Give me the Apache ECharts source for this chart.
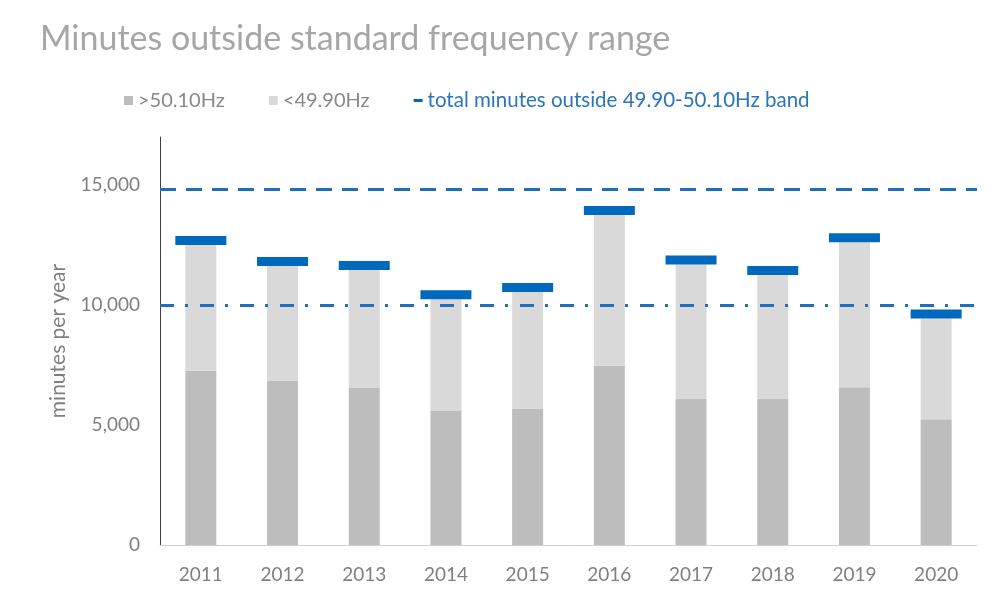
<!DOCTYPE html>
<html>
<head>
<meta charset="utf-8">
<script src="https://cdn.jsdelivr.net/npm/echarts@6/dist/echarts.min.js"></script>
<style>
html, body { margin: 0; padding: 0; background: #fff; }
#chart { width: 997px; height: 607px; }
</style>
</head>
<body>
<div id="chart"></div>
<script>
// values
const years = ['2011', '2012', '2013', '2014', '2015', '2016', '2017', '2018', '2019', '2020'];
const aboveBand = [7260, 6850, 6560, 5580, 5680, 7470, 6100, 6100, 6570, 5240];
const belowBand = [5240, 4780, 4900, 4660, 4860, 6280, 5590, 5150, 6040, 4200];
const upperRef = 14820;
const lowerRef = 10000;

const totals = aboveBand.map((v, i) => v + belowBand[i]);

const blue = '#0068bd';
const lineBlue = '#1f6fc0';
const fontFamily = 'Lato, "Open Sans", sans-serif';

const chart = echarts.init(document.getElementById('chart'));

const option = {
    animation: false,
    title: {
        text: 'Minutes outside standard frequency range',
        left: 35,
        top: 17,
        textStyle: {
            fontFamily: fontFamily,
            fontSize: 34,
            fontWeight: 'normal',
            color: '#a6a6a6'
        }
    },
    legend: {
        left: 119,
        top: 85,
        itemGap: 44,
        itemWidth: 9,
        itemHeight: 9,
        textStyle: {
            fontFamily: fontFamily,
            fontSize: 20,
            color: '#888888'
        },
        data: [
            { name: '>50.10Hz', icon: 'rect' },
            { name: '<49.90Hz', icon: 'rect' },
            {
                name: 'total minutes outside 49.90-50.10Hz band',
                icon: 'path://M0,0L9,0L9,3L0,3Z',
                itemStyle: { color: blue, opacity: 1 },
                textStyle: { color: '#2a75bb', fontSize: 20.5 }
            }
        ]
    },
    grid: {
        left: 160,
        right: 20,
        top: 137,
        bottom: 62
    },
    xAxis: {
        type: 'category',
        data: years,
        axisLine: { lineStyle: { color: '#d0d0d0', width: 1 } },
        axisTick: { show: false },
        axisLabel: {
            fontFamily: fontFamily,
            fontSize: 19,
            color: '#808080',
            margin: 20
        }
    },
    yAxis: {
        type: 'value',
        min: 0,
        max: 17000,
        interval: 5000,
        name: 'minutes per year',
        nameLocation: 'center',
        nameGap: 91,
        nameTextStyle: {
            fontFamily: fontFamily,
            fontSize: 21,
            color: '#7f7f7f'
        },
        axisLine: { show: true, lineStyle: { color: '#404040', width: 1 } },
        axisTick: { show: false },
        splitLine: { show: false },
        axisLabel: {
            showMaxLabel: false,
            fontFamily: fontFamily,
            fontSize: 19,
            color: '#808080',
            margin: 20,
            formatter: v => v.toLocaleString('en-US')
        }
    },
    series: [
        {
            name: '>50.10Hz',
            type: 'bar',
            stack: 'minutes',
            data: aboveBand,
            barWidth: 31,
            itemStyle: { color: '#bdbdbd' }
        },
        {
            name: '<49.90Hz',
            type: 'bar',
            stack: 'minutes',
            data: belowBand,
            barWidth: 31,
            itemStyle: { color: '#d9d9d9' },
            markLine: {
                silent: true,
                symbol: 'none',
                label: { show: false },
                data: [
                    {
                        yAxis: upperRef,
                        lineStyle: { color: lineBlue, width: 3, type: [16, 10] }
                    },
                    {
                        yAxis: lowerRef,
                        lineStyle: { color: lineBlue, width: 3, type: [14, 11, 3, 12] }
                    }
                ]
            }
        },
        {
            name: 'total minutes outside 49.90-50.10Hz band',
            type: 'scatter',
            data: totals,
            symbol: 'rect',
            symbolSize: [51, 9],
            symbolOffset: [0, -4.5],
            itemStyle: { color: blue, opacity: 1 },
            z: 5
        }
    ]
};

chart.setOption(option);
</script>
</body>
</html>
